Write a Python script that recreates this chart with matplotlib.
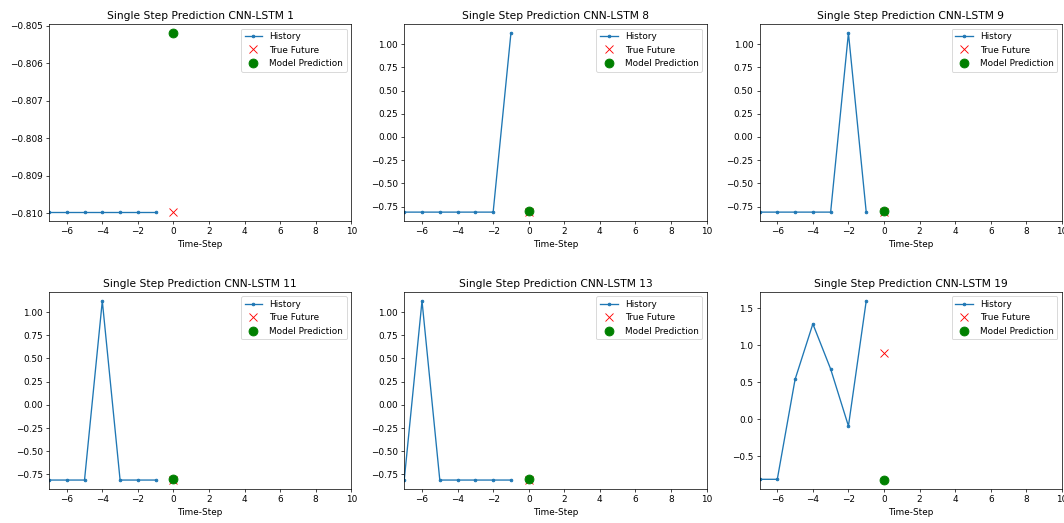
import matplotlib
matplotlib.use("Agg")
import matplotlib.pyplot as plt

# Sample numbers shown in each panel
titles = ["Single Step Prediction CNN-LSTM 1", "Single Step Prediction CNN-LSTM 8",
          "Single Step Prediction CNN-LSTM 9", "Single Step Prediction CNN-LSTM 11",
          "Single Step Prediction CNN-LSTM 13", "Single Step Prediction CNN-LSTM 19"]

time_steps = [-7, -6, -5, -4, -3, -2, -1]

hist_1 = [-0.80997, -0.80997, -0.80997, -0.80997, -0.80997, -0.80997, -0.80997]
hist_8 = [-0.81, -0.81, -0.81, -0.81, -0.81, -0.81, 1.12]
hist_9 = [-0.81, -0.81, -0.81, -0.81, -0.81, 1.12, -0.81]
hist_11 = [-0.81, -0.81, -0.81, 1.12, -0.81, -0.81, -0.81]
hist_13 = [-0.81, 1.12, -0.81, -0.81, -0.81, -0.81, -0.81]
hist_19 = [-0.81, -0.81, 0.54, 1.29, 0.68, -0.09, 1.60]
histories = [hist_1, hist_8, hist_9, hist_11, hist_13, hist_19]

true_future = [-0.80997, -0.81, -0.81, -0.81, -0.81, 0.89]
predictions = [-0.80519, -0.795, -0.795, -0.795, -0.795, -0.82]

future = 0

fig, axes = plt.subplots(2, 3, figsize=(1064 / 64, 523 / 64), dpi=64)
fig.subplots_adjust(left=0.046, right=0.998, top=0.954, bottom=0.065,
                    wspace=0.175, hspace=0.36)

for ax, title, hist, tf, pred in zip(axes.flat, titles, histories, true_future, predictions):
    ax.plot(time_steps, hist, '.-', label='History')
    ax.plot(future, tf, 'rx', markersize=10, label='True Future')
    ax.plot(future, pred, 'go', markersize=10, label='Model Prediction')
    ax.legend(loc='upper right')
    ax.set_xlim([time_steps[0], (future + 5) * 2])
    ax.set_xlabel('Time-Step')
    ax.set_title(title)

fig.savefig("out.png", dpi=64)
